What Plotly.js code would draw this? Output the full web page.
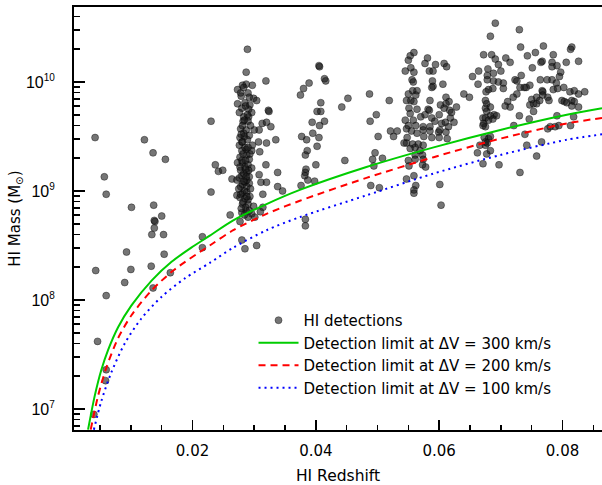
<!DOCTYPE html>
<html><head><meta charset="utf-8">
<script src="https://cdn.plot.ly/plotly-3.0.1.min.js"></script>
<style>html,body{margin:0;padding:0;background:#fff}</style>
</head><body><div id="chart" style="width:602px;height:485px"></div>
<script>
// ---- HI detections (redshift, log10 HI mass [Msun]) ----
const detZ_A = [0.0042,0.0122,0.0136,0.0156,0.0057,0.0060,0.0101,0.0137,0.0150,0.0138,
  0.0139,0.0138,0.0134,0.0153,0.0216,0.0216,0.0093,0.0154,0.0043,0.0100,
  0.0133,0.0164,0.0090,0.0136,0.0060,0.0046,0.0060,0.0059,0.0040];
const detLogM_A = [9.49,9.47,9.35,9.29,9.13,8.97,8.85,8.87,8.77,8.73,
  8.72,8.66,8.60,8.60,8.58,8.48,8.44,8.42,8.27,8.28,
  8.31,8.25,8.16,8.11,8.04,7.62,7.36,7.26,6.95];

const detZ_B = [0.0289,0.0287,0.0319,0.0287,0.0281,0.0297,0.0273,0.0278,0.0290,0.0299,
  0.0304,0.0273,0.0285,0.0293,0.0280,0.0291,0.0323,0.0324,0.0296,0.0283,
  0.0291,0.0230,0.0282,0.0290,0.0313,0.0320,0.0327,0.0308,0.0300,0.0278,
  0.0287,0.0292,0.0277,0.0284,0.0335,0.0320,0.0307,0.0280,0.0297,0.0287,
  0.0280,0.0296,0.0309,0.0288,0.0277,0.0292,0.0273,0.0281,0.0290,0.0319,
  0.0237,0.0285,0.0296,0.0242,0.0249,0.0278,0.0288,0.0308,0.0338,0.0280,
  0.0292,0.0264,0.0272,0.0285,0.0292,0.0311,0.0320,0.0278,0.0288,0.0338,
  0.0346,0.0230,0.0272,0.0281,0.0288,0.0277,0.0285,0.0293,0.0314,0.0281,
  0.0290,0.0299,0.0314,0.0287,0.0280,0.0296,0.0261,0.0277,0.0290,0.0301,
  0.0310,0.0280,0.0285,0.0304];
const detLogM_B = [10.30,10.09,10.01,9.98,9.97,9.97,9.93,9.90,9.90,9.85,
  9.83,9.80,9.81,9.79,9.76,9.75,9.74,9.73,9.72,9.68,
  9.68,9.64,9.64,9.64,9.62,9.63,9.59,9.56,9.56,9.57,
  9.56,9.51,9.49,9.50,9.47,9.44,9.45,9.45,9.42,9.38,
  9.37,9.37,9.36,9.33,9.31,9.29,9.26,9.26,9.24,9.24,
  9.24,9.22,9.21,9.18,9.19,9.19,9.17,9.15,9.17,9.14,
  9.13,9.11,9.10,9.08,9.07,9.08,9.08,9.04,9.04,9.04,
  9.00,8.99,8.96,8.98,8.99,8.94,8.93,8.95,8.97,8.88,
  8.88,8.86,8.85,8.82,8.80,8.79,8.78,8.72,8.76,8.76,
  8.81,8.55,8.47,8.50];

const detZ_B2 = [0.0283,0.0279,0.0292,0.0286,0.0276,0.0289,0.0281,0.0294,0.0283,0.0289,
  0.0276,0.0285,0.0293,0.0282,0.0286,0.0277,0.0291,0.0283,0.0276,0.0288,
  0.0281,0.0294,0.0284,0.0278,0.0290,0.0282,0.0286,0.0279,0.0292,0.0284,
  0.0275,0.0287,0.0280,0.0290,0.0284,0.0279,0.0288,0.0283,0.0286,0.0281];
const detLogM_B2 = [9.95,9.87,9.86,9.78,9.72,9.70,9.60,9.60,9.53,9.47,
  9.42,9.40,9.34,9.34,9.28,9.22,9.19,9.16,9.12,9.10,
  9.06,9.02,9.00,8.97,8.92,8.90,8.85,8.84,8.82,8.78,
  9.02,9.13,9.28,9.40,9.65,9.52,8.95,9.09,9.20,9.45];

const detZ_C = [0.0405,0.0406,0.0414,0.0416,0.0389,0.0380,0.0375,0.0408,0.0452,0.0442,
  0.0402,0.0408,0.0487,0.0519,0.0498,0.0488,0.0394,0.0414,0.0406,0.0521,
  0.0532,0.0526,0.0501,0.0377,0.0385,0.0395,0.0405,0.0402,0.0386,0.0383,
  0.0496,0.0492,0.0508,0.0447,0.0400,0.0494,0.0384,0.0383,0.0382,0.0387,
  0.0398,0.0376,0.0489,0.0503,0.0383,0.0383];
const detLogM_C = [10.15,10.14,10.03,10.01,9.99,9.94,9.88,9.81,9.85,9.77,
  9.73,9.73,9.89,9.83,9.70,9.64,9.63,9.64,9.60,9.55,
  9.55,9.50,9.50,9.50,9.47,9.53,9.49,9.41,9.37,9.33,
  9.35,9.29,9.30,9.28,9.24,9.23,9.20,9.17,9.14,9.10,
  9.09,9.05,9.05,9.03,8.74,8.68];

const detZ_D = [0.0553,0.0559,0.0550,0.0581,0.0577,0.0594,0.0608,0.0612,0.0554,0.0545,
  0.0559,0.0584,0.0590,0.0654,0.0664,0.0556,0.0558,0.0589,0.0606,0.0590,
  0.0588,0.0663,0.0557,0.0564,0.0550,0.0562,0.0640,0.0649,0.0611,0.0585,
  0.0547,0.0554,0.0559,0.0616,0.0611,0.0602,0.0628,0.0564,0.0582,0.0584,
  0.0608,0.0617,0.0551,0.0553,0.0577,0.0570,0.0588,0.0600,0.0620,0.0618,
  0.0545,0.0558,0.0593,0.0604,0.0610,0.0624,0.0550,0.0562,0.0574,0.0585,
  0.0615,0.0547,0.0555,0.0564,0.0574,0.0585,0.0599,0.0601,0.0611,0.0575,
  0.0588,0.0548,0.0600,0.0613,0.0547,0.0543,0.0557,0.0566,0.0574,0.0553,
  0.0561,0.0569,0.0561,0.0573,0.0550,0.0561,0.0574,0.0551,0.0573,0.0578,
  0.0662,0.0547,0.0559,0.0562,0.0559,0.0559,0.0601,0.0603];
const detLogM_D = [10.24,10.27,10.20,10.22,10.17,10.16,10.17,10.14,10.13,10.10,
  10.09,10.10,10.10,10.05,10.10,10.02,10.00,10.01,9.98,9.96,
  9.95,9.98,9.92,9.92,9.89,9.88,9.89,9.86,9.86,9.83,
  9.83,9.83,9.82,9.82,9.80,9.79,9.77,9.75,9.75,9.74,
  9.76,9.74,9.76,9.71,9.70,9.68,9.67,9.70,9.72,9.67,
  9.65,9.65,9.64,9.62,9.63,9.63,9.60,9.60,9.59,9.59,
  9.59,9.57,9.55,9.53,9.56,9.55,9.54,9.56,9.54,9.50,
  9.49,9.49,9.49,9.48,9.44,9.44,9.43,9.43,9.42,9.39,
  9.40,9.37,9.33,9.33,9.28,9.29,9.29,9.23,9.24,9.22,
  9.35,9.11,9.14,9.05,9.01,8.98,9.06,8.87];

const detZ_E = [0.0691,0.0730,0.0683,0.0732,0.0769,0.0815,0.0813,0.0672,0.0685,0.0691,
  0.0708,0.0715,0.0743,0.0756,0.0785,0.0767,0.0765,0.0783,0.0783,0.0791,
  0.0806,0.0826,0.0696,0.0679,0.0700,0.0751,0.0688,0.0797,0.0733,0.0678,
  0.0795,0.0723,0.0726,0.0678,0.0688,0.0764,0.0775,0.0783,0.0696,0.0747,
  0.0790,0.0704,0.0731,0.0738,0.0741,0.0680,0.0687,0.0704,0.0767,0.0768,
  0.0785,0.0792,0.0802,0.0812,0.0819,0.0826,0.0836,0.0676,0.0726,0.0720,
  0.0750,0.0758,0.0768,0.0776,0.0778,0.0799,0.0803,0.0807,0.0815,0.0819,
  0.0826,0.0815,0.0675,0.0677,0.0711,0.0707,0.0715,0.0747,0.0753,0.0758,
  0.0763,0.0675,0.0683,0.0677,0.0683,0.0689,0.0671,0.0675,0.0693,0.0680,
  0.0687,0.0672,0.0753,0.0730,0.0746,0.0791,0.0818,0.0675,0.0671,0.0721,
  0.0780,0.0788,0.0776,0.0794,0.0813,0.0739,0.0673,0.0680,0.0683,0.0675,
  0.0666,0.0675,0.0678,0.0683,0.0677,0.0742,0.0766,0.0758,0.0671,0.0697,0.0731];
const detLogM_E = [10.54,10.48,10.42,10.32,10.33,10.32,10.30,10.25,10.25,10.21,
  10.22,10.18,10.24,10.27,10.25,10.19,10.18,10.18,10.14,10.15,
  10.18,10.19,10.16,10.12,10.10,10.13,10.08,10.09,10.06,10.06,
  10.05,10.02,10.01,10.02,10.01,10.02,10.02,10.02,10.00,9.97,
  9.99,9.99,9.95,9.95,9.95,9.93,9.94,9.94,9.92,9.91,
  9.93,9.94,9.95,9.91,9.92,9.89,9.91,9.91,9.89,9.86,
  9.84,9.86,9.88,9.86,9.83,9.83,9.82,9.81,9.83,9.82,
  9.77,9.78,9.83,9.80,9.82,9.78,9.77,9.79,9.80,9.80,
  9.83,9.76,9.77,9.73,9.69,9.70,9.67,9.67,9.69,9.65,
  9.66,9.62,9.73,9.69,9.66,9.69,9.68,9.59,9.60,9.60,
  9.59,9.59,9.57,9.60,9.60,9.52,9.49,9.48,9.50,9.45,
  9.42,9.42,9.44,9.37,9.34,9.42,9.45,9.32,9.25,9.24,9.17];

// ---- detection limit curves ----
const lim300Z    = [0.00306,0.00414,0.00522,0.0063,0.00793,0.0101,0.0134,0.0166,0.0198,0.0228,0.0266,0.0320,0.0374,0.0482,0.0591,0.0699,0.0807,0.0864];
const lim300LogM = [6.81,7.12,7.36,7.54,7.75,7.95,8.18,8.35,8.48,8.59,8.73,8.88,9.01,9.22,9.40,9.56,9.70,9.76];
const lim200Z    = [0.00349,0.00468,0.00603,0.00793,0.0101,0.0134,0.0171,0.0228,0.0266,0.0320,0.0374,0.0482,0.0591,0.0699,0.0807,0.0864];
const lim200LogM = [6.81,7.12,7.38,7.65,7.86,8.09,8.28,8.50,8.64,8.79,8.91,9.12,9.31,9.48,9.62,9.67];
const lim100Z    = [0.0040,0.0052,0.0068,0.0090,0.0117,0.0150,0.0188,0.0228,0.0266,0.0320,0.0374,0.0482,0.0591,0.0699,0.0807,0.0864];
const lim100LogM = [6.81,7.07,7.33,7.60,7.83,8.03,8.20,8.34,8.48,8.64,8.76,8.96,9.16,9.33,9.47,9.52];

const xTickVals = [0.02,0.04,0.06,0.08];
const xTickText = ['0.02','0.04','0.06','0.08'];
const yTickVals = [1e7,1e8,1e9,1e10];
const yTickExp  = ['7','8','9','10'];
const seriesNames = ['HI detections','Detection limit at ΔV = 300 km/s','Detection limit at ΔV = 200 km/s','Detection limit at ΔV = 100 km/s'];

const toM = a => a.map(v => Math.pow(10, v));
const detZ = [].concat(detZ_A, detZ_B, detZ_B2, detZ_C, detZ_D, detZ_E);
const detM = toM([].concat(detLogM_A, detLogM_B, detLogM_B2, detLogM_C, detLogM_D, detLogM_E));
const yTickText = yTickExp.map(e => '10<sup><span style="font-size:10px">' + e + '</span></sup>');

const yMinor = [];
for (let e = 6; e <= 10; e++) for (let d = 2; d <= 9; d++) yMinor.push(d * Math.pow(10, e));

const traces = [
  {x: detZ, y: detM, type:'scatter', mode:'markers', name: seriesNames[0],
   marker:{size:7, color:'rgba(25,25,25,0.6)', line:{color:'rgba(0,0,0,0.55)', width:0.7}}},
  {x: lim300Z, y: toM(lim300LogM), type:'scatter', mode:'lines', name: seriesNames[1],
   line:{color:'rgb(0,205,0)', width:2, shape:'spline', smoothing:0.8}},
  {x: lim200Z, y: toM(lim200LogM), type:'scatter', mode:'lines', name: seriesNames[2],
   line:{color:'rgb(255,0,0)', width:2, dash:'7px,5px', shape:'spline', smoothing:0.8}},
  {x: lim100Z, y: toM(lim100LogM), type:'scatter', mode:'lines', name: seriesNames[3],
   line:{color:'rgb(0,0,255)', width:2, dash:'2px,4px', shape:'spline', smoothing:0.8}}
];

const axisCommon = {showgrid:false, zeroline:false, showline:true, linewidth:2, linecolor:'black',
  ticks:'inside', tickwidth:1.5, tickcolor:'black'};

const layout = {
  width:602, height:485,
  margin:{l:74, r:0, t:7, b:55},
  paper_bgcolor:'white', plot_bgcolor:'white',
  font:{family:'DejaVu Sans, sans-serif', size:15, color:'black'},
  showlegend:true,
  legend:{x:0.34, y:0.298, xanchor:'left', yanchor:'top', bgcolor:'rgba(0,0,0,0)', borderwidth:0,
    font:{size:15, color:'black'}, itemwidth:40, tracegroupgap:0},
  xaxis: Object.assign({}, axisCommon, {
    range:[0.00078, 0.0864], mirror:true,
    tickmode:'array', tickvals:xTickVals, ticktext:xTickText, ticklen:10,
    tickfont:{family:'DejaVu Sans, sans-serif', size:15, color:'black'},
    ticklabelstandoff:6,
    minor:{ticks:'inside', ticklen:5, tickwidth:1.5, tickcolor:'black', tickmode:'linear', tick0:0, dtick:0.005, showgrid:false},
    title:{text:'HI Redshift', font:{size:15.5}, standoff:18}
  }),
  yaxis: Object.assign({}, axisCommon, {
    type:'log', range:[6.807, 10.688],
    tickmode:'array', tickvals:yTickVals, ticktext:yTickText, ticklen:11,
    tickfont:{family:'Liberation Sans, Arial, sans-serif', size:16, color:'black'},
    ticklabelstandoff:14,
    minor:{ticks:'inside', ticklen:6, tickwidth:1.5, tickcolor:'black', tickmode:'array', tickvals:yMinor, showgrid:false},
    title:{text:'HI Mass (M<sub>⊙</sub>)', font:{size:15}, standoff:2}
  })
};

Plotly.newPlot('chart', traces, layout, {staticPlot:true, displayModeBar:false});
</script></body></html>
